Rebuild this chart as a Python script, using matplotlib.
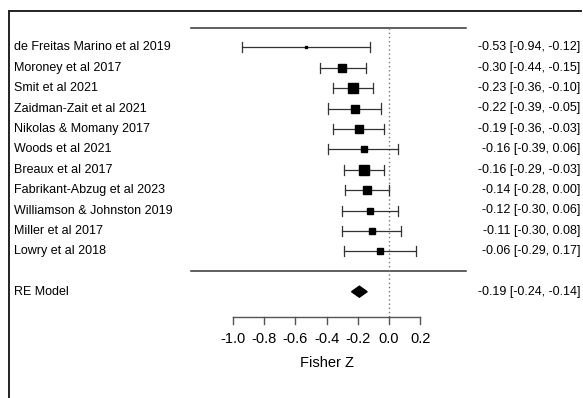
import numpy as np
import matplotlib.pyplot as plt
from matplotlib.lines import Line2D

plt.rcParams['font.family'] = ['Liberation Sans', 'DejaVu Sans']

# -----------------------------
# Data
# -----------------------------
studies = [
    "de Freitas Marino et al 2019", "Moroney et al 2017", "Smit et al 2021",
    "Zaidman-Zait et al 2021", "Nikolas & Momany 2017", "Woods et al 2021",
    "Breaux et al 2017", "Fabrikant-Abzug et al 2023",
    "Williamson & Johnston 2019", "Miller et al 2017", "Lowry et al 2018",
]
est = [-0.53, -0.30, -0.23, -0.22, -0.19, -0.16, -0.16, -0.14, -0.12, -0.11, -0.06]
lower = [-0.94, -0.44, -0.36, -0.39, -0.36, -0.39, -0.29, -0.28, -0.30, -0.30, -0.29]
upper = [-0.12, -0.15, -0.10, -0.05, -0.03, 0.06, -0.03, 0.00, 0.06, 0.08, 0.17]

re_est, re_lower, re_upper = -0.19, -0.24, -0.14
ticks = [-1.0, -0.8, -0.6, -0.4, -0.2, 0.0, 0.2]

k = len(studies)
rows = np.arange(k, 0, -1)

# marker size from precision (1/SE)
se = (np.array(upper) - np.array(lower)) / 3.92
wi = 1 / se
psize = (wi - wi.min()) / (wi.max() - wi.min())
msize = 1.5 + psize ** 0.7 * 5.0

# -----------------------------
# Figure
# -----------------------------
W, H = 583, 398
fig = plt.figure(figsize=(W / 100, H / 100), dpi=100)
ax = fig.add_axes([0, 0, 1, 1])
x0px, xscale = 389, 156
row1px, rowpx = 251.3, 20.4
ax.set_xlim(-x0px / xscale, (W - x0px) / xscale)
ax.set_ylim(1 - (H - row1px) / rowpx, 1 + row1px / rowpx)
ax.axis("off")

line_col = "#333333"
top_row = 11.93
axis_row = -2.24
line_l, line_r = -1.271, 0.494

ax.plot([line_l, line_r], [top_row, top_row], color=line_col, lw=1.1)
ax.plot([line_l, line_r], [0.03, 0.03], color=line_col, lw=1.1)
ax.plot([0, 0], [top_row, axis_row], color="#777777", lw=1, ls=(0, (1, 2)))

cap = 5 / rowpx
for r, e, lo, hi, ms in zip(rows, est, lower, upper, msize):
    ax.plot([lo, hi], [r, r], color=line_col, lw=0.9)
    ax.plot([lo, lo], [r - cap, r + cap], color=line_col, lw=0.9)
    ax.plot([hi, hi], [r - cap, r + cap], color=line_col, lw=0.9)
    ax.plot(e, r, marker="s", ms=ms, color="black", mec="black")

lab_x = (14 - x0px) / xscale
val_x = (580 - x0px) / xscale
for r, name, e, lo, hi in zip(rows, studies, est, lower, upper):
    ax.text(lab_x, r, name, ha="left", va="center", fontsize=9)
    ax.text(val_x, r, f"{e:.2f} [{lo:.2f}, {hi:.2f}]", ha="right",
            va="center", fontsize=9)

# RE model diamond
re_row = -0.98
h = 5.5 / rowpx
ax.fill([re_lower, re_est, re_upper, re_est],
        [re_row, re_row + h, re_row, re_row - h], color="black")
ax.text(lab_x, re_row, "RE Model", ha="left", va="center", fontsize=9)
ax.text(val_x, re_row, f"{re_est:.2f} [{re_lower:.2f}, {re_upper:.2f}]",
        ha="right", va="center", fontsize=9)

# x axis
tick_len = 6.7 / rowpx
ax.plot([ticks[0], ticks[-1]], [axis_row, axis_row], color="#555555", lw=1)
for t in ticks:
    ax.plot([t, t], [axis_row, axis_row - tick_len], color="#555555", lw=1)
    ax.text(t, axis_row - 21.5 / rowpx, f"{t:.1f}", ha="center", va="center",
            fontsize=10.5)
ax.text((ticks[0] + ticks[-1]) / 2, axis_row - 46 / rowpx, "Fisher Z",
        ha="center", va="center", fontsize=10.5)

# outer frame (left and top edges)
fx, fy = 9 / W, 1 - 10.5 / H
fig.add_artist(Line2D([fx, fx], [0, fy], color="#222222", lw=1.4,
                      transform=fig.transFigure))
fig.add_artist(Line2D([fx, 581 / W], [fy, fy], color="#222222", lw=1.4,
                      transform=fig.transFigure))

fig.savefig("out.png", dpi=100)
